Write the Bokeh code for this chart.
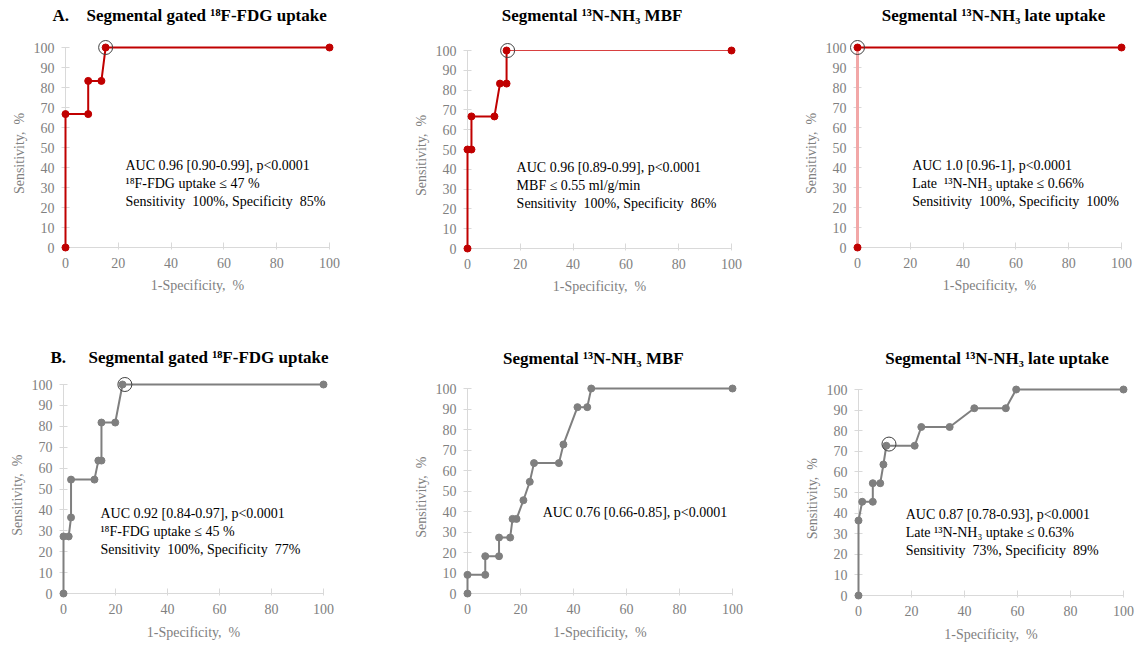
import math
from bokeh.plotting import figure
from bokeh.layouts import column, row
from bokeh.models import Range1d, FixedTicker, Label
from bokeh.embed import file_html
from bokeh.resources import INLINE

# ---------------- data ----------------
# Panel A (red)
A_FDG_X = [0, 0, 8.6, 8.6, 13.6, 15.2, 100]
A_FDG_Y = [0, 66.7, 66.7, 83.3, 83.3, 100, 100]
A_FDG_OPT = [15.2, 100]

A_MBF_X = [0, 0, 1.5, 1.5, 10.2, 12.3, 14.8, 14.8, 100]
A_MBF_Y = [0, 50, 50, 66.7, 66.7, 83.3, 83.3, 100, 100]
A_MBF_OPT = [15.2, 100]

A_LATE_X = [0, 0, 100]
A_LATE_Y = [0, 100, 100]
A_LATE_OPT = [0, 100]

# Panel B (gray)
B_FDG_X = [0, 0, 2.0, 2.9, 2.9, 11.9, 13.4, 14.6, 14.6, 19.9, 22.7, 100]
B_FDG_Y = [0, 27.3, 27.3, 36.4, 54.5, 54.5, 63.6, 63.6, 81.8, 81.8, 100, 100]
B_FDG_OPT = [23.6, 100]

B_MBF_X = [0, 0, 6.7, 6.7, 11.9, 11.9, 16.1, 17.0, 18.5, 21.1, 23.5, 25.1, 34.5, 36.2, 41.5, 45.2, 46.7, 100]
B_MBF_Y = [0, 9.1, 9.1, 18.2, 18.2, 27.3, 27.3, 36.4, 36.4, 45.5, 54.5, 63.6, 63.6, 72.7, 90.9, 90.9, 100, 100]
B_MBF_OPT = None

B_LATE_X = [0, 0, 1.4, 5.4, 5.4, 8.2, 9.4, 10.5, 21.2, 23.7, 34.4, 43.7, 55.6, 59.5, 100]
B_LATE_Y = [0, 36.4, 45.5, 45.5, 54.5, 54.5, 63.6, 72.7, 72.7, 81.8, 81.8, 90.9, 90.9, 100, 100]
B_LATE_OPT = [11.5, 73.5]

X_TICKS = [0, 20, 40, 60, 80, 100]
Y_TICKS = [0, 10, 20, 30, 40, 50, 60, 70, 80, 90, 100]

TITLES = [
    "Segmental gated \u00b9\u2078F-FDG uptake",
    "Segmental \u00b9\u00b3N-NH\u2083 MBF",
    "Segmental \u00b9\u00b3N-NH\u2083 late uptake",
]
NB = "\u00a0"
A_NOTES = [
    ["AUC 0.96 [0.90-0.99], p<0.0001", "\u00b9\u2078F-FDG uptake \u2264 47 %", "Sensitivity " + NB + "100%, Specificity " + NB + "85%"],
    ["AUC 0.96 [0.89-0.99], p<0.0001", "MBF \u2264 0.55 ml/g/min", "Sensitivity " + NB + "100%, Specificity " + NB + "86%"],
    ["AUC 1.0 [0.96-1], p<0.0001", "Late " + NB + "\u00b9\u00b3N-NH\u2083 uptake \u2264 0.66%", "Sensitivity " + NB + "100%, Specificity " + NB + "100%"],
]
B_NOTES = [
    ["AUC 0.92 [0.84-0.97], p<0.0001", "\u00b9\u2078F-FDG uptake \u2264 45 %", "Sensitivity " + NB + "100%, Specificity " + NB + "77%"],
    ["AUC 0.76 [0.66-0.85], p<0.0001"],
    ["AUC 0.87 [0.78-0.93], p<0.0001", "Late \u00b9\u00b3N-NH\u2083 uptake \u2264 0.63%", "Sensitivity " + NB + "73%, Specificity " + NB + "89%"],
]
X_LABEL = "1-Specificity, " + NB + "%"
Y_LABEL = "Sensitivity, " + NB + "%"

# ---------------- style / layout ----------------
FONT = "Liberation Serif"
RED = "#C00000"
GRAY = "#7F7F7F"
AXIS_C = "#D9D9D9"
TXT_GRAY = "#808080"

ROW_TOPS = [0, 338]
ROW_H = [338, 307]
COL_LEFTS = [0, 410, 797]
COL_W = [410, 387, 338]

# per panel: window px of data x=0, x=100, y=100, y=0
GEOM = [
    [(65, 329, 47, 247), (467, 731, 50, 248), (857, 1121, 47, 247)],
    [(63, 323, 384, 593), (467, 732, 388, 593), (858, 1123, 389, 595)],
]
TITLE_POS = [
    [(8.0, "left", 32, "A."), (47.2, "center", 35, None), (51.5, "center", 32, None)],
    [(9.6, "left", 27, "B."), (47.5, "center", 30, None), (52.3, "center", 31, None)],
]
NOTE_POS = [
    [(22.7, 41.0), (18.6, 41.0), (20.7, 41.0)],
    [(14.2, 38.3), (28.4, 39.4), (17.8, 39.4)],
]


def make_panel(r, c, xs, ys, opt, color, notes, segs):
    x0, x100, y100, y0 = GEOM[r][c]
    sx = (x100 - x0) / 100.0
    sy = (y0 - y100) / 100.0
    FL, FT = COL_LEFTS[c], ROW_TOPS[r]
    W, H = COL_W[c], ROW_H[r]
    xr = Range1d((FL - x0) / sx, (FL + W - x0) / sx)
    yr = Range1d((y0 - (FT + H)) / sy, (y0 - FT) / sy)
    p = figure(
        width=W, height=H,
        min_border_left=0, min_border_right=0, min_border_top=0, min_border_bottom=0,
        x_range=xr, y_range=yr,
        output_backend="svg", toolbar_location=None,
    )
    p.outline_line_color = None
    p.xgrid.visible = False
    p.ygrid.visible = False
    p.background_fill_color = "white"
    p.border_fill_color = "white"

    for ax in (p.xaxis[0], p.yaxis[0]):
        ax.fixed_location = 0
        ax.bounds = (0, 100)
        ax.axis_line_color = AXIS_C
        ax.major_tick_line_color = AXIS_C
        ax.minor_tick_line_color = None
        ax.major_label_text_color = TXT_GRAY
        ax.major_label_text_font = FONT
        ax.major_label_text_font_size = "14px"
    p.xaxis[0].ticker = FixedTicker(ticks=X_TICKS)
    p.yaxis[0].ticker = FixedTicker(ticks=Y_TICKS)
    p.xaxis[0].major_tick_in = 5
    p.xaxis[0].major_tick_out = 2
    p.xaxis[0].major_label_standoff = 8
    p.yaxis[0].major_tick_in = 4
    p.yaxis[0].major_tick_out = 4
    p.yaxis[0].major_label_standoff = 7

    # curve (drawn above the axes)
    if segs is None:
        p.line(xs, ys, line_color=color, line_width=2, level="overlay")
    else:
        for (a, b, w, col) in segs:
            p.line(xs[a:b], ys[a:b], line_color=col, line_width=w, level="overlay")
    p.scatter(xs, ys, marker="circle", size=7, fill_color=color, line_color=color,
              level="overlay")
    if opt is not None:
        p.scatter([opt[0]], [opt[1]], marker="circle", size=14, fill_color=None,
                  line_color="#404040", line_width=1, level="overlay")

    # axis titles
    p.add_layout(Label(x=50, y=0, y_offset=-38 if r == 0 else -39, text=X_LABEL,
                       text_align="center", text_baseline="middle",
                       text_font=FONT, text_font_size="14px", text_color=TXT_GRAY))
    p.add_layout(Label(x=0, y=47, x_offset=-46, text=Y_LABEL, angle=math.pi / 2,
                       text_align="center", text_baseline="middle",
                       text_font=FONT, text_font_size="14px", text_color=TXT_GRAY))

    # title
    tx, talign, toff, letter = TITLE_POS[r][c]
    p.add_layout(Label(x=tx, y=100, y_offset=toff, text=TITLES[c], text_align=talign,
                       text_baseline="middle", text_font=FONT, text_font_size="17px",
                       text_font_style="bold", text_color="black"))
    if letter:
        p.add_layout(Label(x=0, y=100, x_offset=-13, y_offset=toff, text=letter,
                           text_align="left", text_baseline="middle", text_font=FONT,
                           text_font_size="17px", text_font_style="bold", text_color="black"))

    # annotation
    nx, ny = NOTE_POS[r][c]
    for i, t in enumerate(notes):
        p.add_layout(Label(x=nx, y=ny, y_offset=-18 * i, text=t, text_align="left",
                           text_baseline="middle", text_font=FONT, text_font_size="14px",
                           text_color="black"))
    return p


a1 = make_panel(0, 0, A_FDG_X, A_FDG_Y, A_FDG_OPT, RED, A_NOTES[0], None)
a2 = make_panel(0, 1, A_MBF_X, A_MBF_Y, A_MBF_OPT, RED, A_NOTES[1],
                [(0, 8, 2, RED), (7, 9, 1, "#D84040")])
a3 = make_panel(0, 2, A_LATE_X, A_LATE_Y, A_LATE_OPT, RED, A_NOTES[2],
                [(0, 2, 3, "#F2A7A7"), (1, 3, 2, RED)])
b1 = make_panel(1, 0, B_FDG_X, B_FDG_Y, B_FDG_OPT, GRAY, B_NOTES[0], None)
b2 = make_panel(1, 1, B_MBF_X, B_MBF_Y, B_MBF_OPT, GRAY, B_NOTES[1], None)
b3 = make_panel(1, 2, B_LATE_X, B_LATE_Y, B_LATE_OPT, GRAY, B_NOTES[2], None)

layout = column(row(a1, a2, a3), row(b1, b2, b3))
open("out.html", "w").write(file_html(layout, INLINE))
